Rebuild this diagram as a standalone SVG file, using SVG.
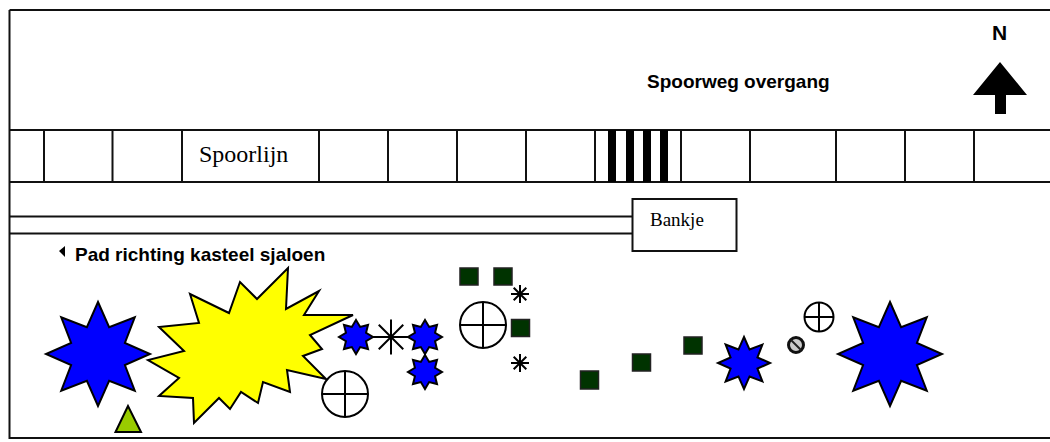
<svg xmlns="http://www.w3.org/2000/svg" width="1050" height="442" viewBox="0 0 1050 442">
<style>
text{fill:#000}
.l{stroke:#111;stroke-width:2;fill:none}
.f{stroke:#111;stroke-width:2;fill:#fff}
.b{fill:#00f;stroke:#000;stroke-width:2;stroke-linejoin:miter;vector-effect:non-scaling-stroke}
.sq{fill:#030;stroke:#222;stroke-width:1.500}
.s{font-family:"Liberation Sans",Arial,sans-serif;font-weight:700;font-size:19px}
.t{font-family:"Liberation Serif","Times New Roman",serif}
</style>
<defs>
<polygon id="star8" class="b" points="0,-1 .214,-.517 .707,-.707 .517,-.214 1,0 .517,.214 .707,.707 .214,.517 0,1 -.214,.517 -.707,.707 -.517,.214 -1,0 -.517,-.214 -.707,-.707 -.214,-.517"/>
<polygon id="star8s" class="b" points="0,-1 .245,-.591 .707,-.707 .591,-.245 1,0 .591,.245 .707,.707 .245,.591 0,1 -.245,.591 -.707,.707 -.591,.245 -1,0 -.591,-.245 -.707,-.707 -.245,-.591"/>
<g id="cc"><circle r="1" fill="#fff" stroke="#000" stroke-width="2" vector-effect="non-scaling-stroke"/><path d="M-1,0H1M0,-1V1" stroke="#000" stroke-width="2" vector-effect="non-scaling-stroke"/></g>
<path id="ast" d="M0,-1V1M-1,0H1M-.7,-.7L.7,.7M-.7,.7L.7,-.7" stroke="#000" stroke-width="2" vector-effect="non-scaling-stroke"/>
</defs>
<rect width="1050" height="442" fill="#fff"/>
<g id="frame"><path class="l" d="M9.500,10H1050M9.500,10V438H1050"/></g>
<g id="track">
<path class="l" d="M9.500,130H1050M9.500,182H1050M44,130V182M112.500,130V182M319,130V182M388,130V182M457,130V182M526,130V182M595,130V182M681,130V182M750,130V182M836,130V182M905,130V182M974,130V182"/>
<path d="M608,130h8v52h-8zM626,130h8v52h-8zM643,130h8v52h-8zM660,130h8v52h-8z"/>
<rect id="spoorlijn" class="f" x="182" y="130" width="137" height="52"/>
<text class="t" x="199" y="162" font-size="24">Spoorlijn</text>
</g>
<g id="connectors">
<path class="l" d="M9.500,216.500H632M9.500,233.500H632M372,337H410M425,337V372"/>
</g>
<g id="bankje"><rect class="f" x="632.500" y="199" width="104" height="52"/><text class="t" x="650" y="226" font-size="19">Bankje</text></g>
<g id="spoorweg"><text class="s" x="647" y="88">Spoorweg overgang</text></g>
<g id="noord"><text class="s" x="992" y="40" style="font-size:21px">N</text><path d="M1000,62L1027,95H1006V114H995V95H973Z"/></g>
<g id="pad"><path d="M59,251L65,246V257Z"/><text class="s" x="75" y="261">Pad richting kasteel sjaloen</text></g>
<g id="struik-geel"><polygon fill="#ff0" stroke="#000" stroke-width="2" points="353,315 310,335 322,349 303,356 326,379 287,370 290,392 263,382 258,403 241,392 230,409 219,398 194,423 193,398 159,396 179,378 148,360 184,351 159,327 199,323 190,294 229,313 240,282 257,299 288,268 286,309 319,291 304,315"/></g>
<g id="ster-links"><use href="#star8" transform="translate(98,354) scale(52)"/></g>
<g id="ster-rechts"><use href="#star8" transform="translate(890,354) scale(52)"/></g>
<g id="ster-1"><use href="#star8s" transform="translate(356,337) scale(17)"/></g>
<g id="ster-2"><use href="#star8s" transform="translate(425,337) scale(17)"/></g>
<g id="ster-3"><use href="#star8s" transform="translate(425,372) scale(17)"/></g>
<g id="ster-4"><use href="#star8" transform="translate(744,363) scale(26)"/></g>
<g id="kruis-1"><use href="#ast" transform="translate(391,337) scale(17.500)"/></g>
<g id="kruis-2"><use href="#ast" transform="translate(520,294) scale(9)"/></g>
<g id="kruis-3"><use href="#ast" transform="translate(520,363) scale(9)"/></g>
<g id="cirkel-1"><use href="#cc" transform="translate(345,394) scale(23)"/></g>
<g id="cirkel-2"><use href="#cc" transform="translate(483,325) scale(23)"/></g>
<g id="cirkel-3"><use href="#cc" transform="translate(819,317) scale(14.500)"/></g>
<g id="verboden"><circle cx="796" cy="345" r="7.500" fill="#ccc" stroke="#111" stroke-width="3"/><path d="M791,340L801,350" stroke="#222" stroke-width="2"/></g>
<g id="driehoek"><polygon points="128,406 115.500,432 141,432" fill="#9c0" stroke="#000" stroke-width="2"/></g>
<g id="vak-1"><rect class="sq" x="460" y="268" width="18" height="17"/></g>
<g id="vak-2"><rect class="sq" x="494" y="268" width="18" height="17"/></g>
<g id="vak-3"><rect class="sq" x="511.500" y="319.500" width="18" height="17"/></g>
<g id="vak-4"><rect class="sq" x="580.500" y="371" width="18" height="18"/></g>
<g id="vak-5"><rect class="sq" x="632.500" y="354" width="18" height="17"/></g>
<g id="vak-6"><rect class="sq" x="684" y="337" width="18" height="17"/></g>
</svg>
